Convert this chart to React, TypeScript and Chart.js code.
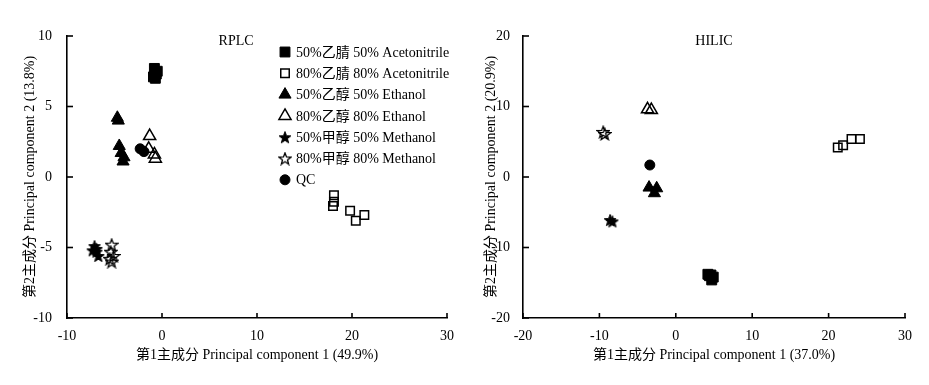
import React, { useEffect, useRef } from 'react';
import { Chart, registerables } from 'chart.js';
import { drawPoint } from 'chart.js/helpers';

Chart.register(...registerables);

const FONT = "'Liberation Serif', 'Times New Roman', 'Noto Sans CJK SC', serif";

// ---- data ----
const seriesLabels = [
  '50%乙腈 50% Acetonitrile',
  '80%乙腈 80% Acetonitrile',
  '50%乙醇 50% Ethanol',
  '80%乙醇 80% Ethanol',
  '50%甲醇 50% Methanol',
  '80%甲醇 80% Methanol',
  'QC',
];

// RPLC panel
const rplcAcn50 = [[-0.8, 7.7], [-0.5, 7.5], [-0.6, 7.3], [-0.9, 7.1], [-0.7, 7.0]];
const rplcAcn80 = [[18.1, -1.3], [18.1, -1.75], [18.0, -2.05], [19.8, -2.4], [20.4, -3.1], [21.3, -2.7]];
const rplcEth50 = [[-4.7, 4.2], [-4.6, 4.0], [-4.5, 2.2], [-4.3, 1.7], [-4.1, 1.1], [-4.0, 1.4]];
const rplcEth80 = [[-1.3, 2.9], [-1.4, 2.0], [-0.8, 1.6], [-0.7, 1.3]];
const rplcMet50 = [[-7.1, -4.9], [-7.3, -5.2], [-6.9, -5.3], [-6.7, -5.6], [-6.9, -5.1]];
const rplcMet80 = [[-5.3, -4.8], [-5.4, -5.3], [-5.1, -5.6], [-5.3, -6.0], [-5.5, -5.8]];
const rplcQC = [[-2.3, 2.0], [-1.9, 1.8]];

// HILIC panel
const hilicAcn50 = [[4.2, -13.8], [4.6, -13.9], [4.9, -14.2], [4.7, -14.6], [4.4, -14.0]];
const hilicAcn80 = [[21.2, 4.2], [21.9, 4.5], [23.0, 5.4], [24.1, 5.4]];
const hilicEth50 = [[-3.5, -1.5], [-2.5, -1.6], [-2.8, -2.3]];
const hilicEth80 = [[-3.7, 9.6], [-3.2, 9.5]];
const hilicMet50 = [[-8.6, -6.1], [-8.3, -6.3]];
const hilicMet80 = [[-9.5, 6.4], [-9.3, 6.1]];
const hilicQC = [[-3.4, 1.7]];

const rplcXTicks = [-10, 0, 10, 20, 30];
const rplcYTicks = [-10, -5, 0, 5, 10];
const hilicXTicks = [-20, -10, 0, 10, 20, 30];
const hilicYTicks = [-20, -10, 0, 10, 20];

// ---- markers ----
function makeStar(filled: boolean, size = 14): HTMLCanvasElement {
  const c = document.createElement('canvas');
  c.width = size;
  c.height = size;
  const ctx = c.getContext('2d')!;
  const cx = size / 2;
  const cy = size / 2 + 0.6;
  const R = size / 2 - 0.8;
  const r = R * 0.42;
  ctx.beginPath();
  for (let i = 0; i < 10; i++) {
    const ang = -Math.PI / 2 + (i * Math.PI) / 5;
    const rad = i % 2 === 0 ? R : r;
    ctx.lineTo(cx + rad * Math.cos(ang), cy + rad * Math.sin(ang));
  }
  ctx.closePath();
  ctx.strokeStyle = '#000';
  ctx.lineJoin = 'miter';
  if (filled) {
    ctx.fillStyle = '#000';
    ctx.fill();
    ctx.lineWidth = 1;
    ctx.stroke();
  } else {
    ctx.lineWidth = 1.3;
    ctx.stroke();
  }
  return c;
}

function seriesStyles() {
  const starF = makeStar(true);
  const starO = makeStar(false);
  return [
    { pointStyle: 'rect', radius: 7, bg: '#000', bw: 1 },
    { pointStyle: 'rect', radius: 6, bg: 'rgba(0,0,0,0)', bw: 1.5 },
    { pointStyle: 'triangle', radius: 7, bg: '#000', bw: 1 },
    { pointStyle: 'triangle', radius: 7, bg: 'rgba(0,0,0,0)', bw: 1.5 },
    { pointStyle: starF, radius: 7, bg: '#000', bw: 0 },
    { pointStyle: starO, radius: 7, bg: 'rgba(0,0,0,0)', bw: 0 },
    { pointStyle: 'circle', radius: 5, bg: '#000', bw: 1 },
  ];
}

function buildDatasets(groups: number[][][]) {
  const st = seriesStyles();
  return groups.map((g, i) => ({
    label: seriesLabels[i],
    data: g.map(([x, y]) => ({ x, y })),
    pointStyle: st[i].pointStyle as any,
    pointRadius: st[i].radius,
    backgroundColor: st[i].bg,
    borderColor: '#000',
    borderWidth: st[i].bw,
    showLine: false,
  }));
}

// inward tick marks + panel title + (optional) legend
const decorPlugin = {
  id: 'decor',
  afterDraw(chart: any, _args: any, opts: any) {
    const ctx = chart.ctx as CanvasRenderingContext2D;
    const ca = chart.chartArea;
    const xs = chart.scales.x;
    const ys = chart.scales.y;
    ctx.save();
    ctx.strokeStyle = '#000';
    ctx.lineWidth = 1.6;
    xs.ticks.forEach((t: any) => {
      const px = xs.getPixelForValue(t.value);
      ctx.beginPath();
      ctx.moveTo(px, ca.bottom);
      ctx.lineTo(px, ca.bottom - 5);
      ctx.stroke();
    });
    ys.ticks.forEach((t: any) => {
      const py = ys.getPixelForValue(t.value);
      ctx.beginPath();
      ctx.moveTo(ca.left, py);
      ctx.lineTo(ca.left + 6, py);
      ctx.stroke();
    });
    // panel title
    ctx.fillStyle = '#000';
    ctx.font = `14px ${FONT}`;
    ctx.textAlign = 'center';
    ctx.textBaseline = 'middle';
    ctx.fillText(opts.title, ca.left + opts.titleFrac * (ca.right - ca.left), ca.top + 5);
    // legend
    if (opts.legend) {
      const lx = ca.left + opts.legendX;
      let ly = ca.top + opts.legendY;
      chart.data.datasets.forEach((ds: any) => {
        ctx.save();
        ctx.fillStyle = ds.backgroundColor;
        ctx.strokeStyle = ds.borderColor;
        ctx.lineWidth = ds.borderWidth;
        drawPoint(ctx, { pointStyle: ds.pointStyle, radius: ds.pointRadius, rotation: 0, borderWidth: ds.borderWidth } as any, lx, ly);
        ctx.restore();
        ctx.fillStyle = '#000';
        ctx.font = `14px ${FONT}`;
        ctx.textAlign = 'left';
        ctx.textBaseline = 'middle';
        ctx.fillText(ds.label, lx + 11, ly + 1);
        ly += 21.3;
      });
    }
    ctx.restore();
  },
};

function makeConfig(p: {
  groups: number[][][];
  xMin: number; xMax: number; xTicks: number[];
  yMin: number; yMax: number; yTicks: number[];
  xTitle: string; yTitle: string;
  yWidth: number; rightPad: number; yTickPad: number; yTitlePad: number;
  title: string; titleFrac: number; legend: boolean;
}) {
  const tickFont = { family: FONT, size: 14 };
  return {
    type: 'scatter' as const,
    data: { datasets: buildDatasets(p.groups) },
    options: {
      animation: false as const,
      responsive: false,
      maintainAspectRatio: false,
      layout: { padding: { top: 36, right: p.rightPad, left: 0, bottom: 0 } },
      plugins: {
        legend: { display: false },
        tooltip: { enabled: false },
        decor: { title: p.title, titleFrac: p.titleFrac, legend: p.legend, legendX: 218, legendY: 16 },
      },
      scales: {
        x: {
          type: 'linear' as const,
          min: p.xMin,
          max: p.xMax,
          afterBuildTicks: (s: any) => { s.ticks = p.xTicks.map((v) => ({ value: v })); },
          ticks: { color: '#000', font: tickFont, padding: 2, maxRotation: 0 },
          grid: { display: false },
          border: { display: true, color: '#000', width: 1.6 },
          title: { display: true, text: p.xTitle, color: '#000', font: tickFont, padding: { top: 0, bottom: 21.5 } },
          afterFit: (s: any) => { s.height = 67; },
        },
        y: {
          type: 'linear' as const,
          min: p.yMin,
          max: p.yMax,
          afterBuildTicks: (s: any) => { s.ticks = p.yTicks.map((v) => ({ value: v })); },
          ticks: { color: '#000', font: tickFont, padding: p.yTickPad },
          grid: { display: false },
          border: { display: true, color: '#000', width: 1.6 },
          title: { display: true, text: p.yTitle, color: '#000', font: tickFont, padding: { top: p.yTitlePad, bottom: 0 } },
          afterFit: (s: any) => { s.width = p.yWidth; },
        },
      },
    },
    plugins: [decorPlugin],
  };
}

export default function App() {
  const leftRef = useRef<HTMLCanvasElement>(null);
  const rightRef = useRef<HTMLCanvasElement>(null);

  useEffect(() => {
    const left = new Chart(leftRef.current!, makeConfig({
      groups: [rplcAcn50, rplcAcn80, rplcEth50, rplcEth80, rplcMet50, rplcMet80, rplcQC],
      xMin: -10, xMax: 30, xTicks: rplcXTicks,
      yMin: -10, yMax: 10, yTicks: rplcYTicks,
      xTitle: '第1主成分 Principal component 1 (49.9%)',
      yTitle: '第2主成分 Principal component 2 (13.8%)',
      yWidth: 67, rightPad: 17, yTickPad: 7, yTitlePad: 21.5,
      title: 'RPLC', titleFrac: 0.445, legend: true,
    }) as any);
    const right = new Chart(rightRef.current!, makeConfig({
      groups: [hilicAcn50, hilicAcn80, hilicEth50, hilicEth80, hilicMet50, hilicMet80, hilicQC],
      xMin: -20, xMax: 30, xTicks: hilicXTicks,
      yMin: -20, yMax: 20, yTicks: hilicYTicks,
      xTitle: '第1主成分 Principal component 1 (37.0%)',
      yTitle: '第2主成分 Principal component 2 (20.9%)',
      yWidth: 59, rightPad: 24, yTickPad: 5, yTitlePad: 19,
      title: 'HILIC', titleFrac: 0.5, legend: false,
    }) as any);
    return () => {
      left.destroy();
      right.destroy();
    };
  }, []);

  return (
    <div style={{ position: 'absolute', left: 0, top: 0, width: 929, height: 385, background: '#fff' }}>
      <canvas ref={leftRef} width={464} height={385} style={{ position: 'absolute', left: 0, top: 0, width: 464, height: 385 }} />
      <canvas ref={rightRef} width={465} height={385} style={{ position: 'absolute', left: 464, top: 0, width: 465, height: 385 }} />
    </div>
  );
}
